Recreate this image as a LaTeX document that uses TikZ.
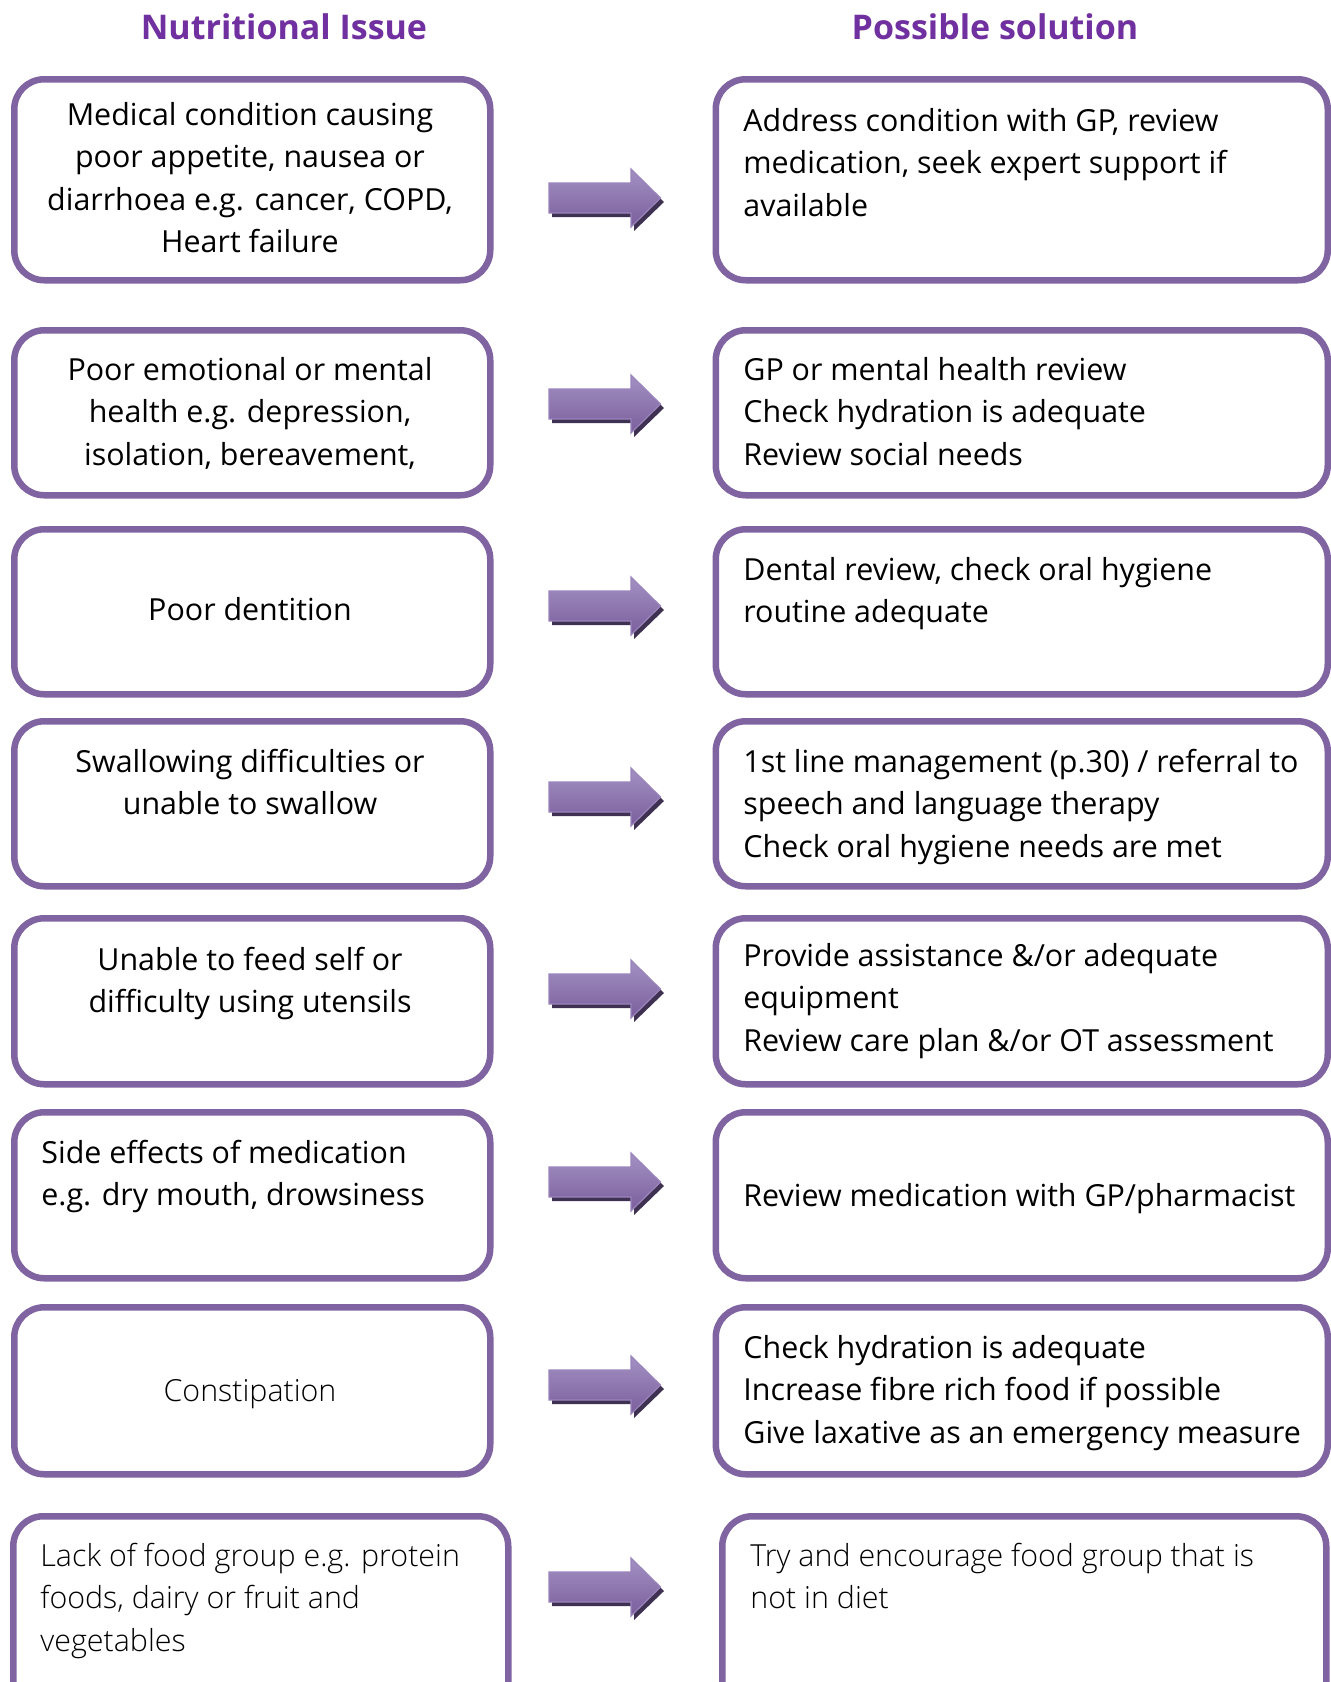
\documentclass[tikz,border=0pt]{standalone}
\usepackage{fontspec}
\setmainfont{Open Sans}
\newfontfamily\lightfont{Open Sans Light}
\usetikzlibrary{calc}

\definecolor{boxline}{HTML}{8064A2}
\definecolor{titlecol}{HTML}{7030A0}
\definecolor{arrowshadow}{HTML}{3F3151}
\definecolor{arrowtop}{HTML}{A391C3}
\definecolor{arrowmid}{HTML}{8064A2}
\definecolor{arrowbot}{HTML}{7A5E9C}
\definecolor{arrowedge}{HTML}{9A84BC}

\tikzset{
  x=0.5pt, y=-0.5pt,
  issuebox/.style={draw=boxline, line width=3.25pt, rounded corners=15pt,
    fill=white, inner sep=0pt, anchor=north west},
  bodytext/.style={font=\fontsize{15.2}{21.3}\selectfont, inner sep=0pt},
  heading/.style={font=\bfseries\fontsize{17}{21}\selectfont, text=titlecol, inner sep=0pt},
  pics/fatarrow/.style={code={
    \fill[arrowshadow] (-53.5,-11) -- (28.5,-11) -- (28.5,-25) -- (58.5,4)
      -- (28.5,33) -- (28.5,19) -- (-53.5,19) -- cycle;
    \path[shading=axis, top color=arrowtop, middle color=arrowmid,
      bottom color=arrowbot, draw=arrowedge, line width=0.6pt]
      (-56.5,-15) -- (25.5,-15) -- (25.5,-29) -- (55,0)
      -- (25.5,29) -- (25.5,15) -- (-56.5,15) -- cycle;
  }}
}

\newcommand{\lefttext}[1]{\parbox[t]{225pt}{\centering #1}}
\newcommand{\flushtext}[1]{\parbox[t]{320pt}{\raggedright #1}}

\begin{document}
\begin{tikzpicture}
\useasboundingbox[fill=white] (0,0) rectangle (1330,1682);

% column headings
\node[heading] (h1) at (284,27) {Nutritional Issue};
\node[heading] (h2) at (995,27) {Possible solution};

% issue boxes (left column)
\node[issuebox, minimum width=238pt, minimum height=100.5pt] (i1) at (11,76) {};
\node[issuebox, minimum width=238pt, minimum height=82.5pt]  (i2) at (11,327) {};
\node[issuebox, minimum width=238pt, minimum height=82.5pt]  (i3) at (11,526) {};
\node[issuebox, minimum width=238pt, minimum height=82.5pt]  (i4) at (11,718) {};
\node[issuebox, minimum width=238pt, minimum height=83pt]    (i5) at (11,915) {};
\node[issuebox, minimum width=238pt, minimum height=83pt]    (i6) at (11,1109) {};
\node[issuebox, minimum width=238pt, minimum height=83.5pt]  (i7) at (11,1304) {};
\node[issuebox, minimum width=247.5pt, minimum height=102.5pt] (i8) at (10,1513) {};

% solution boxes (right column)
\node[issuebox, minimum width=306pt, minimum height=100.5pt] (s1) at (712.5,76) {};
\node[issuebox, minimum width=306pt, minimum height=82.5pt]  (s2) at (712.5,327) {};
\node[issuebox, minimum width=306pt, minimum height=82.5pt]  (s3) at (712.5,526) {};
\node[issuebox, minimum width=306pt, minimum height=82.5pt]  (s4) at (712.5,718) {};
\node[issuebox, minimum width=306pt, minimum height=83pt]    (s5) at (712.5,915) {};
\node[issuebox, minimum width=306pt, minimum height=83pt]    (s6) at (712.5,1109) {};
\node[issuebox, minimum width=306pt, minimum height=83.5pt]  (s7) at (712.5,1304) {};
\node[issuebox, minimum width=302pt, minimum height=102.5pt] (s8) at (719,1513) {};

% issue texts
\node[bodytext, anchor=base] (it1) at (250,125) {\lefttext{Medical condition causing\\poor appetite, nausea or\\diarrhoea e.g. cancer, COPD,\\Heart failure}};
\node[bodytext, anchor=base] (it2) at (250,380) {\lefttext{Poor emotional or mental\\health e.g. depression,\\isolation, bereavement,}};
\node[bodytext, anchor=base] (it3) at (250,620) {\lefttext{Poor dentition}};
\node[bodytext, anchor=base] (it4) at (250,772) {\lefttext{Swallowing difficulties or\\unable to swallow}};
\node[bodytext, anchor=base] (it5) at (250,970) {\lefttext{Unable to feed self or\\difficulty using utensils}};
\node[bodytext, anchor=base west] (it6) at (41,1163) {\flushtext{Side effects of medication\\e.g. dry mouth, drowsiness}};
\node[bodytext, anchor=base] (it7) at (250,1401) {\lefttext{\lightfont Constipation}};
\node[bodytext, anchor=base west] (it8) at (40,1566) {\flushtext{\lightfont Lack of food group e.g. protein\\foods, dairy or fruit and\\vegetables}};

% solution texts
\node[bodytext, anchor=base west] (st1) at (743,131) {\flushtext{Address condition with GP, review\\medication, seek expert support if\\available}};
\node[bodytext, anchor=base west] (st2) at (743,380) {\flushtext{GP or mental health review\\Check hydration is adequate\\Review social needs}};
\node[bodytext, anchor=base west] (st3) at (743,580) {\flushtext{Dental review, check oral hygiene\\routine adequate}};
\node[bodytext, anchor=base west] (st4) at (743,772) {\flushtext{1st line management (p.30) / referral to\\speech and language therapy\\Check oral hygiene needs are met}};
\node[bodytext, anchor=base west] (st5) at (743,966) {\flushtext{Provide assistance \&/or adequate\\equipment\\Review care plan \&/or OT assessment}};
\node[bodytext, anchor=base west] (st6) at (743,1206) {\flushtext{Review medication with GP/pharmacist}};
\node[bodytext, anchor=base west] (st7) at (743,1358) {\flushtext{Check hydration is adequate\\Increase fibre rich food if possible\\Give laxative as an emergency measure}};
\node[bodytext, anchor=base west] (st8) at (750,1566) {\flushtext{\lightfont Try and encourage food group that is\\not in diet}};

% block arrows between the columns
\foreach \n/\yy in {1/198,2/404,3/606,4/797,5/989,6/1182,7/1385,8/1587}{
  \coordinate (a\n) at (605.5,\yy);
  \pic at (a\n) {fatarrow};
}
\end{tikzpicture}
\end{document}
